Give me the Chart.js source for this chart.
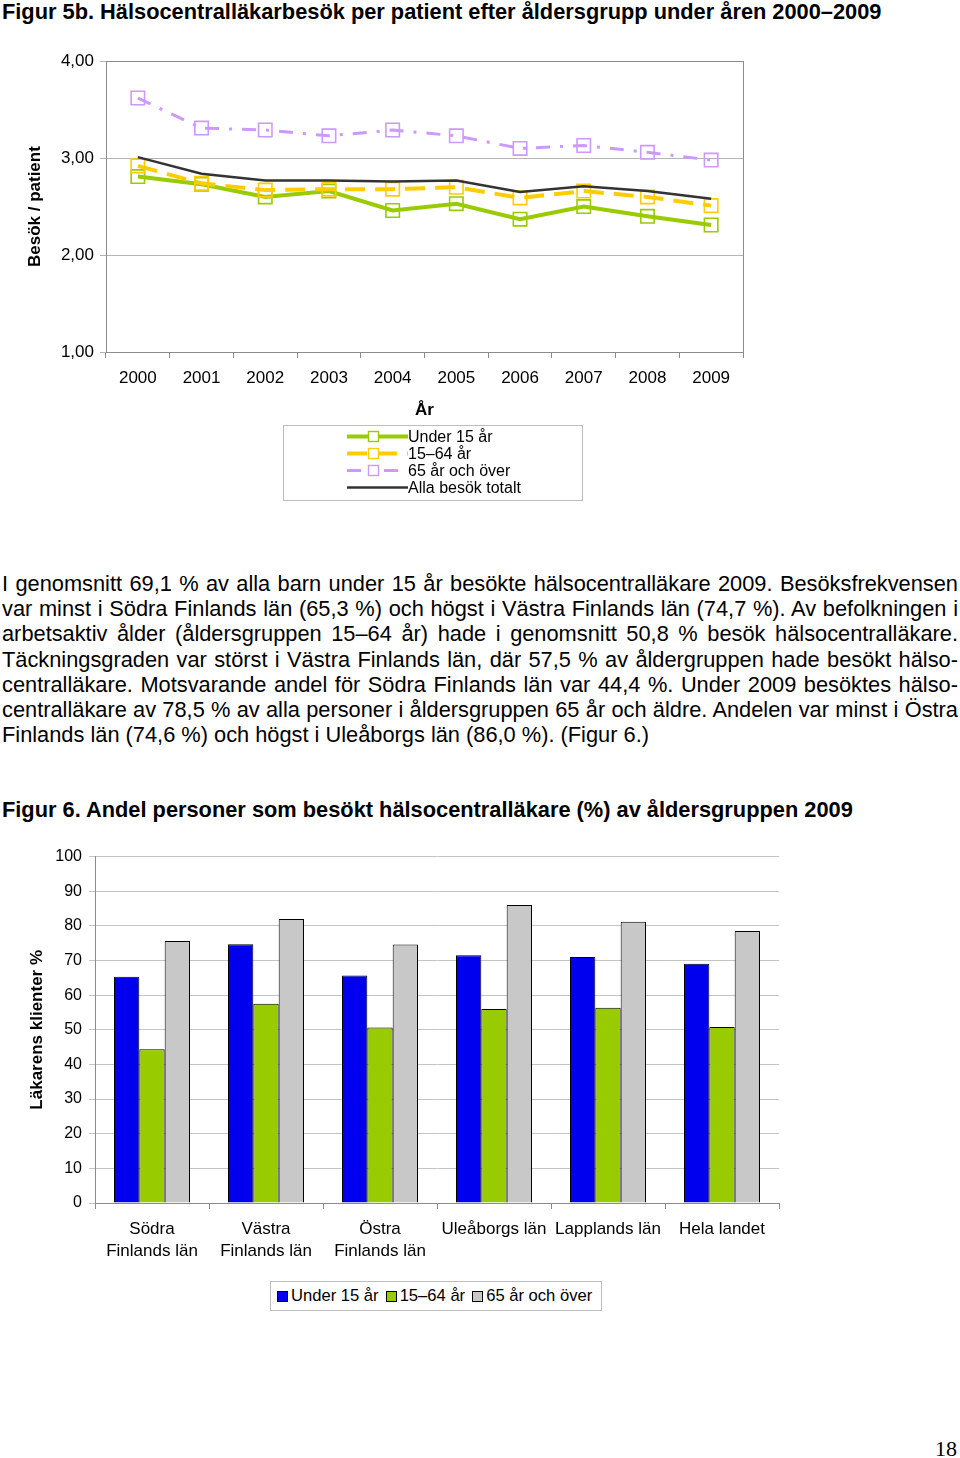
<!DOCTYPE html>
<html>
<head>
<meta charset="utf-8">
<script src="https://cdn.jsdelivr.net/npm/chart.js@4.4.1/dist/chart.umd.min.js"></script>
<style>
  body { margin: 0; background: #fff; font-family: "Liberation Sans", Arial, sans-serif; color: #000; }
  #page { position: relative; width: 960px; height: 1458px; overflow: hidden; }
  .abs { position: absolute; }
  .title { font-weight: bold; font-size: 21.8px; line-height: 24px; white-space: nowrap; }
  #para { left: 2px; top: 571px; width: 956px; font-size: 21.8px; line-height: 25.2px; }
  #para div { text-align: justify; text-align-last: justify; white-space: nowrap; }
  #para div.last { text-align-last: left; }
  #legend1 { left: 283px; top: 425px; width: 298px; height: 74px; border: 1px solid #bdbdbd; }
  #legend1 .row { position: absolute; left: 63px; height: 17px; display: flex; align-items: center; font-size: 16px; }
  #legend1 canvas { display: block; margin-right: 0; }
  #legend2 { left: 270px; top: 1281px; width: 324px; height: 28px; border: 1px solid #bdbdbd;
             display: flex; align-items: center; padding-left: 6px; box-sizing: content-box; font-size: 16.6px; white-space: nowrap; }
  #legend2 .sw { width: 9px; height: 9px; border: 1px solid #000; margin: 1px 3px 0 0; flex: none; }
  #legend2 .it { display: flex; align-items: center; margin-right: 7px; flex: none; }
  #pageNo { right: 3px; top: 1436px; font-family: "Liberation Serif", "Times New Roman", serif; font-size: 22px; }
</style>
</head>
<body>
<div id="page">
  <div class="abs title" style="left:2px;top:0px;">Figur 5b. Hälsocentralläkarbesök per patient efter åldersgrupp under åren 2000–2009</div>

  <div class="abs" style="left:0;top:45px;width:760px;height:377px;"><canvas id="lineChart"></canvas></div>
  <div class="abs" id="legend1"></div>

  <div class="abs" id="para">
    <div>I genomsnitt 69,1 % av alla barn under 15 år besökte hälsocentralläkare 2009. Besöksfrekvensen</div>
    <div>var minst i Södra Finlands län (65,3 %) och högst i Västra Finlands län (74,7 %). Av befolkningen i</div>
    <div>arbetsaktiv ålder (åldersgruppen 15–64 år) hade i genomsnitt 50,8 % besök hälsocentralläkare.</div>
    <div>Täckningsgraden var störst i Västra Finlands län, där 57,5 % av åldergruppen hade besökt hälso-</div>
    <div>centralläkare. Motsvarande andel för Södra Finlands län var 44,4 %. Under 2009 besöktes hälso-</div>
    <div>centralläkare av 78,5 % av alla personer i åldersgruppen 65 år och äldre. Andelen var minst i Östra</div>
    <div class="last">Finlands län (74,6 %) och högst i Uleåborgs län (86,0 %). (Figur 6.)</div>
  </div>

  <div class="abs title" style="left:2px;top:798px;">Figur 6. Andel personer som besökt hälsocentralläkare (%) av åldersgruppen 2009</div>

  <div class="abs" style="left:0;top:840px;width:800px;height:433px;"><canvas id="barChart"></canvas></div>
  <div class="abs" id="legend2"></div>

  <div class="abs" id="pageNo">18</div>
</div>

<script>
  // ---- Figur 5b: besök per patient ----
  const years = ['2000', '2001', '2002', '2003', '2004', '2005', '2006', '2007', '2008', '2009'];
  const lineLabels = ['Under 15 år', '15–64 år', '65 år och över', 'Alla besök totalt'];
  const under15Visits = [2.81, 2.73, 2.60, 2.66, 2.46, 2.53, 2.37, 2.50, 2.40, 2.31];
  const age15to64Visits = [2.92, 2.74, 2.67, 2.68, 2.68, 2.70, 2.59, 2.66, 2.60, 2.51];
  const age65plusVisits = [3.62, 3.31, 3.29, 3.23, 3.29, 3.23, 3.10, 3.13, 3.06, 2.98];
  const totalVisits = [3.01, 2.84, 2.77, 2.77, 2.76, 2.77, 2.65, 2.71, 2.66, 2.58];
  const visitTicks = [1, 2, 3, 4];

  // ---- Figur 6: andel som besökt läkare ----
  const regions = [['Södra', 'Finlands län'], ['Västra', 'Finlands län'], ['Östra', 'Finlands län'],
                   'Uleåborgs län', 'Lapplands län', 'Hela landet'];
  const barLabels = ['Under 15 år', '15–64 år', '65 år och över'];
  const under15Share = [65.3, 74.7, 65.7, 71.5, 71.0, 69.1];
  const age15to64Share = [44.4, 57.5, 50.7, 56.0, 56.4, 50.8];
  const age65plusShare = [75.6, 82.0, 74.6, 86.0, 81.2, 78.5];

  const FONT = '"Liberation Sans", Arial, sans-serif';
  Chart.defaults.font.family = FONT;
  Chart.defaults.color = '#000';

  // line styles (not data)
  const LINE_STYLES = [
    { color: '#99cc00', width: 4, dash: [], marker: true },
    { color: '#ffcc00', width: 4, dash: [20, 10], marker: true },
    { color: '#cc99ff', width: 3, dash: [14, 10, 3, 10], marker: true },
    { color: '#333333', width: 2.5, dash: [], marker: false },
  ];
  const BAR_COLORS = ['#0000ee', '#99cc00', '#c8c8c8'];

  // draws a box round the plot area
  const plotBorder = {
    id: 'plotBorder',
    afterDraw(chart, args, opts) {
      if (!opts.color) return;
      const { ctx, chartArea: a } = chart;
      ctx.save();
      ctx.strokeStyle = opts.color;
      ctx.lineWidth = 1;
      ctx.strokeRect(Math.round(a.left) + 0.5, Math.round(a.top) + 0.5, Math.round(a.right - a.left), Math.round(a.bottom - a.top));
      ctx.restore();
    },
  };

  const lineSeries = [under15Visits, age15to64Visits, age65plusVisits, totalVisits];

  new Chart(document.getElementById('lineChart'), {
    type: 'line',
    data: {
      labels: years,
      datasets: lineSeries.map((vals, i) => ({
        label: lineLabels[i],
        data: vals,
        borderColor: LINE_STYLES[i].color,
        borderWidth: LINE_STYLES[i].width,
        borderDash: LINE_STYLES[i].dash,
        tension: 0,
        pointStyle: 'rect',
        pointRadius: LINE_STYLES[i].marker ? 9.5 : 0,
        pointBorderWidth: 1.6,
        pointBorderColor: LINE_STYLES[i].color,
        pointBackgroundColor: 'rgba(255,255,255,0)',
        order: 4 - i,
      })),
    },
    plugins: [plotBorder],
    options: {
      responsive: true,
      maintainAspectRatio: false,
      animation: false,
      layout: { padding: { top: 15, right: 17, left: 0, bottom: 0 } },
      plugins: { legend: { display: false }, tooltip: { enabled: false }, plotBorder: { color: '#8c8c8c' } },
      scales: {
        x: {
          offset: true,
          afterFit: (s) => { s.height = 70; },
          grid: { offset: true, drawOnChartArea: false, tickLength: 6, color: '#8c8c8c' },
          border: { color: '#8c8c8c' },
          ticks: { font: { size: 17 }, padding: 10, maxRotation: 0 },
          title: { display: true, text: 'År', font: { size: 17, weight: 'bold' }, padding: { top: 0, bottom: 1 } },
        },
        y: {
          min: 1, max: 4,
          afterFit: (s) => { s.width = 106; },
          afterBuildTicks: (s) => { s.ticks = visitTicks.map((v) => ({ value: v })); },
          grid: { color: '#b4b4b4', tickLength: 6 },
          border: { color: '#8c8c8c' },
          ticks: { font: { size: 17 }, padding: 6, callback: (v) => v.toFixed(2).replace('.', ',') },
          title: { display: true, text: 'Besök / patient', font: { size: 17, weight: 'bold' }, padding: { top: 25, bottom: 0 } },
        },
      },
    },
  });

  // legend for line chart
  const lg1 = document.getElementById('legend1');
  lineLabels.forEach((name, i) => {
    const st = LINE_STYLES[i];
    const row = document.createElement('div');
    row.className = 'row';
    row.style.top = (2 + i * 17) + 'px';
    const cv = document.createElement('canvas');
    cv.width = 61; cv.height = 17;
    const c = cv.getContext('2d');
    c.strokeStyle = st.color; c.lineWidth = st.width; c.setLineDash(st.dash);
    c.beginPath(); c.moveTo(0, 8.5); c.lineTo(61, 8.5); c.stroke();
    if (st.marker) {
      c.setLineDash([]); c.lineWidth = 1.4;
      c.fillStyle = '#fff'; c.fillRect(21.5, 3.5, 10, 10);
      c.strokeRect(21.5, 3.5, 10, 10);
    }
    row.appendChild(cv);
    const t = document.createElement('span');
    t.textContent = name;
    row.appendChild(t);
    lg1.appendChild(row);
  });

  const barSeries = [under15Share, age15to64Share, age65plusShare];

  new Chart(document.getElementById('barChart'), {
    type: 'bar',
    data: {
      labels: regions,
      datasets: barSeries.map((vals, i) => ({
        label: barLabels[i],
        data: vals,
        backgroundColor: BAR_COLORS[i],
        borderColor: '#000',
        borderWidth: 1,
        categoryPercentage: 0.667,
        barPercentage: 1,
      })),
    },
    options: {
      responsive: true,
      maintainAspectRatio: false,
      animation: false,
      layout: { padding: { top: 15, right: 21, left: 0, bottom: 0 } },
      plugins: { legend: { display: false }, tooltip: { enabled: false } },
      scales: {
        x: {
          afterFit: (s) => { s.height = 70; },
          grid: { offset: true, drawOnChartArea: false, tickLength: 6, color: '#8c8c8c' },
          border: { color: '#8c8c8c' },
          ticks: { font: { size: 17, lineHeight: 1.3 }, padding: 9, maxRotation: 0 },
        },
        y: {
          min: 0, max: 100,
          afterFit: (s) => { s.width = 95; },
          grid: { color: '#c4c4c4', tickLength: 6 },
          border: { color: '#8c8c8c' },
          ticks: { stepSize: 10, font: { size: 16 }, padding: 7 },
          title: { display: true, text: 'Läkarens klienter %', font: { size: 17, weight: 'bold' }, padding: { top: 27, bottom: 0 } },
        },
      },
    },
  });

  // legend for bar chart
  const lg2 = document.getElementById('legend2');
  barLabels.forEach((name, i) => {
    const it = document.createElement('div');
    it.className = 'it';
    const sw = document.createElement('div');
    sw.className = 'sw';
    sw.style.background = BAR_COLORS[i];
    it.appendChild(sw);
    const t = document.createElement('span');
    t.textContent = name;
    it.appendChild(t);
    lg2.appendChild(it);
  });
</script>
</body>
</html>
